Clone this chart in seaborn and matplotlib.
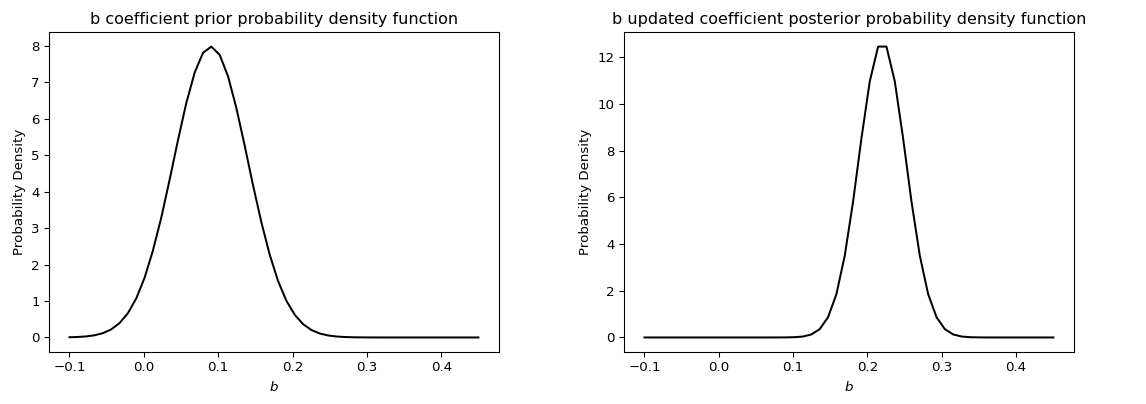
import seaborn as sns
import matplotlib.pyplot as plt
import pandas as pd
import numpy as np

# grid of b values
b_values = [
    -0.1000, -0.0888, -0.0776, -0.0663, -0.0551, -0.0439, -0.0327, -0.0214, -0.0102, 0.0010,
    0.0122, 0.0235, 0.0347, 0.0459, 0.0571, 0.0684, 0.0796, 0.0908, 0.1020, 0.1133,
    0.1245, 0.1357, 0.1469, 0.1582, 0.1694, 0.1806, 0.1918, 0.2031, 0.2143, 0.2255,
    0.2367, 0.2480, 0.2592, 0.2704, 0.2816, 0.2929, 0.3041, 0.3153, 0.3265, 0.3378,
    0.3490, 0.3602, 0.3714, 0.3827, 0.3939, 0.4051, 0.4163, 0.4276, 0.4388, 0.4500,
]

# prior density
prior_density = [
    0.006, 0.013, 0.029, 0.060, 0.118, 0.221, 0.394, 0.666, 1.071, 1.637,
    2.381, 3.292, 4.328, 5.410, 6.430, 7.266, 7.808, 7.978, 7.751, 7.160,
    6.290, 5.253, 4.172, 3.150, 2.262, 1.545, 1.003, 0.619, 0.363, 0.203,
    0.108, 0.054, 0.026, 0.012, 0.005, 0.002, 0.001, 0.000, 0.000, 0.000,
    0.000, 0.000, 0.000, 0.000, 0.000, 0.000, 0.000, 0.000, 0.000, 0.000,
]

# posterior density
posterior_density = [
    0.000, 0.000, 0.000, 0.000, 0.000, 0.000, 0.000, 0.000, 0.000, 0.000,
    0.000, 0.000, 0.000, 0.000, 0.000, 0.000, 0.001, 0.003, 0.012, 0.041,
    0.129, 0.356, 0.866, 1.855, 3.502, 5.818, 8.517, 10.978, 12.466, 12.466,
    10.978, 8.517, 5.818, 3.502, 1.855, 0.866, 0.356, 0.129, 0.041, 0.012,
    0.003, 0.001, 0.000, 0.000, 0.000, 0.000, 0.000, 0.000, 0.000, 0.000,
]

prior_df = pd.DataFrame({"b": b_values, "density": prior_density})
post_df = pd.DataFrame({"b": b_values, "density": posterior_density})

# 96 dpi so default point sizes come out like the notebook render
DPI = 96
fig = plt.figure(figsize=(1146 / DPI, 404 / DPI), dpi=DPI)
ax1 = fig.add_axes([0.0428, 0.1287, 0.3925, 0.792])
ax2 = fig.add_axes([0.5445, 0.1287, 0.3925, 0.792])

sns.lineplot(data=prior_df, x="b", y="density", color="black", ax=ax1)
ax1.set_title("b coefficient prior probability density function", fontsize=12)

sns.lineplot(data=post_df, x="b", y="density", color="black", ax=ax2)
ax2.set_title("b updated coefficient posterior probability density function", fontsize=12)

for ax in (ax1, ax2):
    ax.set_xlabel("$b$", fontsize=10)
    ax.set_ylabel("Probability Density", fontsize=10)
    ax.tick_params(labelsize=10)

ax1.set_yticks(range(0, 9))

fig.savefig("out.png", dpi=DPI)
plt.close(fig)
